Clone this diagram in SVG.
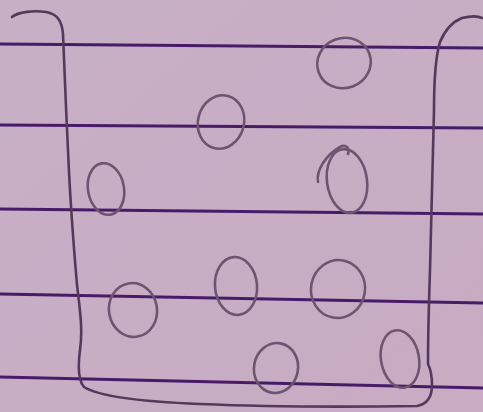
<svg xmlns="http://www.w3.org/2000/svg" width="483" height="412" viewBox="0 0 483 412">
<defs>
<linearGradient id="bg" x1="0" y1="0" x2="1" y2="1">
<stop offset="0" stop-color="#c7b0c5"/>
<stop offset="0.5" stop-color="#c8adc5"/>
<stop offset="1" stop-color="#c9abc3"/>
</linearGradient>
<style>
.rule{stroke:#471b68;stroke-width:2.8;fill:none}
.pen{stroke:#56385c;stroke-width:2.6;fill:none;stroke-linecap:round;stroke-linejoin:round}
.ring{stroke:#6f5471;stroke-width:2.6;fill:none;stroke-linecap:round}
</style>
</defs>
<rect width="483" height="412" fill="url(#bg)"/>
<g id="rules">
<path class="rule" d="M0 44 L483 48"/>
<path class="rule" d="M0 125 L483 128"/>
<path class="rule" d="M0 209 L483 214"/>
<path class="rule" d="M0 294 L483 303"/>
<path class="rule" d="M0 377 L483 388"/>
</g>
<g id="container">
<path class="pen" d="M12 17 C18 12 34 10 46 12 C58 14 62 22 63 34 C64 60 66 110 68 150 C70 200 74 250 77 285 C80 310 83 330 80 350 C78 365 78 380 84 387 C100 397 150 402 200 404 C270 407 350 407 417 406 C428 404 432 396 432 385 C432 375 430 368 428 364 C428 340 429 300 430 270 C431 220 433 160 434 110 C434 80 436 55 440 42 C445 30 452 22 462 18 C470 16 478 16 482 18"/>
</g>
<g id="circles">
<ellipse class="ring" cx="344" cy="63" rx="27" ry="25" transform="rotate(-20 344 63)"/>
<ellipse class="ring" cx="221" cy="122" rx="23" ry="27" transform="rotate(15 221 122)"/>
<ellipse class="ring" cx="106" cy="189" rx="18" ry="26" transform="rotate(-10 106 189)"/>
<ellipse class="ring" cx="347" cy="181" rx="20" ry="32" transform="rotate(-8 347 181)"/>
<path class="ring" d="M318 182 C316 170 326 155 340 147 C346 144 350 148 348 154"/>
<ellipse class="ring" cx="236" cy="286" rx="21" ry="29" transform="rotate(-5 236 286)"/>
<ellipse class="ring" cx="338" cy="289" rx="27" ry="29" transform="rotate(10 338 289)"/>
<ellipse class="ring" cx="133" cy="310" rx="24" ry="27" transform="rotate(-10 133 310)"/>
<ellipse class="ring" cx="276" cy="368" rx="22" ry="25" transform="rotate(10 276 368)"/>
<ellipse class="ring" cx="400" cy="359" rx="19" ry="29" transform="rotate(-10 400 359)"/>
</g>
</svg>
